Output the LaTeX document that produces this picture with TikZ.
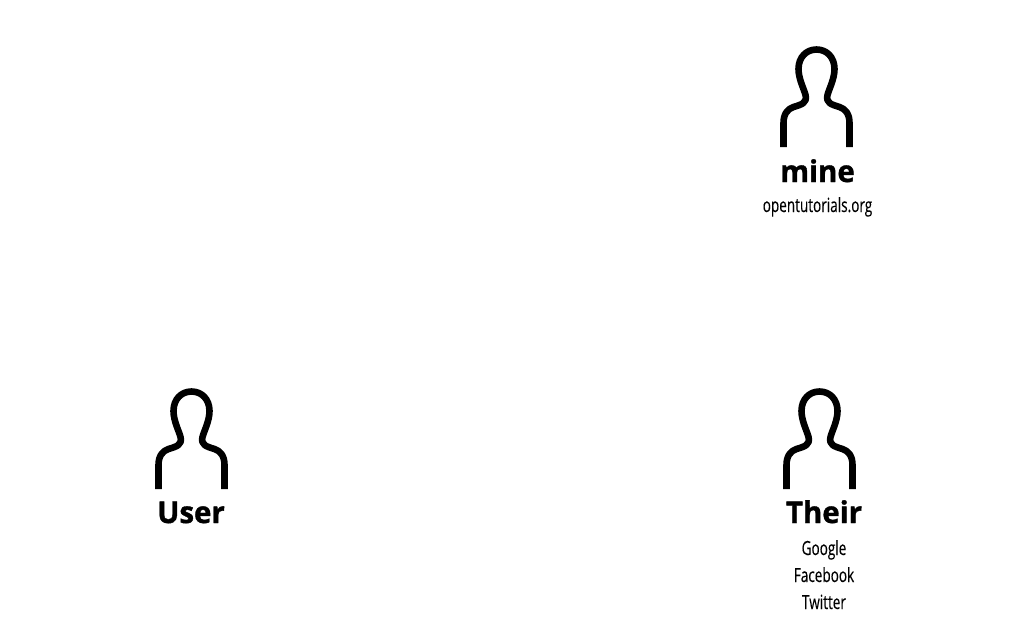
\documentclass[tikz,border=0pt]{standalone}
\usepackage{fontspec}
\setmainfont{Open Sans}
\newfontfamily\titlefont[FakeStretch=0.98,FakeBold=1.2]{Open Sans Bold}
\newfontfamily\smallfont[FakeStretch=0.695,FakeBold=0.15]{Open Sans}
\tikzset{
  x=1pt,y=-1pt,
  persona/.pic={
    \draw[line width=6.6pt,line cap=butt,line join=round]
      (-33,0) -- (-33,-24)
      .. controls (-33,-33) and (-29,-38) .. (-23,-40)
      .. controls (-15,-42.5) and (-9,-44) .. (-11,-52)
      .. controls (-12.5,-58) and (-18,-68) .. (-18,-78)
      .. controls (-18,-90) and (-10,-97.5) .. (0,-97.5)
      .. controls (10,-97.5) and (18,-90) .. (18,-78)
      .. controls (18,-68) and (12.5,-58) .. (11,-52)
      .. controls (9,-44) and (15,-42.5) .. (23,-40)
      .. controls (29,-38) and (33,-33) .. (33,-24)
      -- (33,0);
  },
  titlelabel/.style={inner sep=0pt,font=\titlefont\fontsize{30}{30}\selectfont},
  sublabel/.style={inner sep=0pt,font=\smallfont\fontsize{19.5}{19.5}\selectfont}
}
\begin{document}
\begin{tikzpicture}
\useasboundingbox (0,0) rectangle (1024,625);
\pic (iconmine) at (816.5,147) {persona};
\pic (iconuser) at (191.5,489) {persona};
\pic (icontheir) at (819.5,489) {persona};
\node[titlelabel,anchor=base] (mine) at (817.5,182) {mine};
\node[sublabel,anchor=base] (site) at (817.5,212) {opentutorials.org};
\node[titlelabel,anchor=base] (user) at (191,523) {User};
\node[titlelabel,anchor=base] (their) at (824,523) {Their};
\node[sublabel,anchor=base] (google) at (824,555) {Google};
\node[sublabel,anchor=base] (facebook) at (824,582) {Facebook};
\node[sublabel,anchor=base] (twitter) at (824,609) {Twitter};
\end{tikzpicture}
\end{document}
